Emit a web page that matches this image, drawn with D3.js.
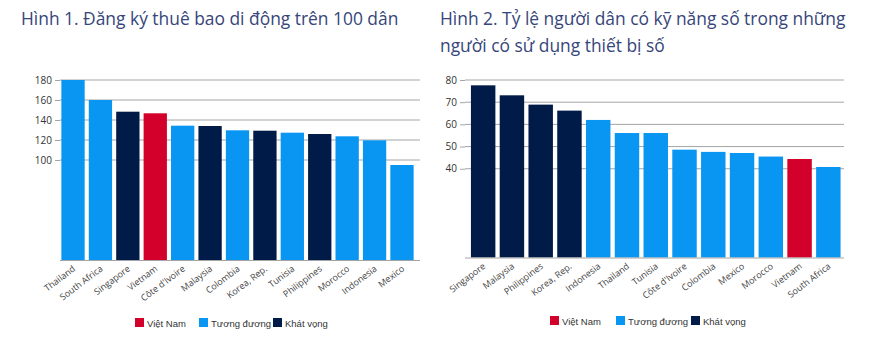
<!DOCTYPE html>
<html><head><meta charset="utf-8">
<script src="https://cdn.jsdelivr.net/npm/d3@7"></script>
<style>
html,body{margin:0;padding:0;background:#fff;}
svg{display:block;}
</style></head>
<body>
<svg id="c" width="885" height="343"></svg>
<script>
// ---- Data ----
const cats1 = ["Thailand","South Africa","Singapore","Vietnam","Côte d'Ivoire","Malaysia","Colombia","Korea, Rep.","Tunisia","Philippines","Morocco","Indonesia","Mexico"];
const vals1 = [180,160,148.3,146.7,134.3,134,129.7,129.3,127.3,126,123.7,119.7,95];
const grp1  = ["t","t","k","v","t","k","t","k","t","k","t","t","t"];
const ticks1 = [100,120,140,160,180];

const cats2 = ["Singapore","Malaysia","Philippines","Korea, Rep.","Indonesia","Thailand","Tunisia","Côte d'Ivoire","Colombia","Mexico","Morocco","Vietnam","South Africa"];
const vals2 = [77.6,73.1,68.9,66.2,62.0,56.1,56.1,48.6,47.6,47.1,45.5,44.4,40.8];
const grp2  = ["k","k","k","k","t","t","t","t","t","t","t","v","t"];
const ticks2 = [40,50,60,70,80];

const legendKeys = ["v","t","k"];
const legendLabels = ["Việt Nam","Tương đương","Khát vọng"];
const title1 = ["Hình 1. Đăng ký thuê bao di động trên 100 dân"];
const title2 = ["Hình 2. Tỷ lệ người dân có kỹ năng số trong những","người có sử dụng thiết bị số"];

const color = d3.scaleOrdinal().domain(["v","t","k"]).range(["#d2002b","#0896f2","#001b47"]);
const svg = d3.select("#c");

function chart(cfg){
  const g = svg.append("g");
  // title
  g.append("text").attr("x",cfg.tx).attr("y",25)
    .attr("font-family","Open Sans").attr("font-size",17.4).attr("fill","#36467a")
    .selectAll("tspan").data(cfg.title).join("tspan")
    .attr("x",cfg.tx).attr("dy",(d,i)=>i===0?0:27).text(d=>d);

  const x = d3.scaleBand().domain(cfg.cats).range(cfg.xr).paddingInner(0.15).paddingOuter(0.05);
  const y = d3.scaleLinear().domain(cfg.yd).range([cfg.base, cfg.top]);

  // gridlines
  g.selectAll(".grid").data(cfg.ticks).join("line")
    .attr("x1",cfg.gx[0]).attr("x2",cfg.gx[1])
    .attr("y1",d=>y(d)).attr("y2",d=>y(d))
    .attr("stroke","#a5a5a5").attr("stroke-width",1);

  // y axis
  const ya = g.append("g").attr("transform",`translate(${cfg.gx[0]},0)`)
    .call(d3.axisLeft(y).tickValues(cfg.ticks).tickSize(5).tickPadding(3));
  ya.select(".domain").remove();
  ya.selectAll(".tick line").attr("stroke","#a5a5a5");
  ya.selectAll("text").attr("font-family","Open Sans").attr("font-size",10).attr("fill","#333");

  // bars
  g.selectAll(".bar").data(cfg.cats).join("rect")
    .attr("x",d=>x(d)).attr("width",x.bandwidth())
    .attr("y",(d,i)=>y(cfg.vals[i])).attr("height",(d,i)=>y(0)-y(cfg.vals[i]))
    .attr("fill",(d,i)=>color(cfg.grp[i]));

  // baseline
  g.append("line").attr("x1",cfg.gx[0]).attr("x2",cfg.gx[1])
    .attr("y1",y(0)+0.5).attr("y2",y(0)+0.5).attr("stroke","#a5a5a5");

  // x labels
  g.selectAll(".xl").data(cfg.cats).join("text")
    .attr("transform",d=>`translate(${x(d)+x.bandwidth()/2+3},${y(0)+10}) rotate(-37)`)
    .attr("text-anchor","end").attr("font-family","Open Sans").attr("font-size",9)
    .attr("fill","#444").text(d=>d);

  // legend
  const lg = g.append("g");
  legendKeys.forEach((k,i)=>{
    lg.append("rect").attr("x",cfg.lx[i]).attr("y",cfg.ly-5).attr("width",9).attr("height",9).attr("fill",color(k));
    lg.append("text").attr("x",cfg.lx[i]+12).attr("y",cfg.ly+3.5)
      .attr("font-family","Liberation Sans").attr("font-size",9.5).attr("fill","#333").text(legendLabels[i]);
  });
}

chart({cats:cats1, vals:vals1, grp:grp1, ticks:ticks1, yd:[0,180], base:260, top:80,
  xr:[60,415], gx:[60,420], title:title1, tx:21, lx:[135,199,273], ly:323});
chart({cats:cats2, vals:vals2, grp:grp2, ticks:ticks2, yd:[0,80], base:257.5, top:80,
  xr:[469.5,842], gx:[465,844], title:title2, tx:440, lx:[550,616,691], ly:321});
</script>
</body></html>
